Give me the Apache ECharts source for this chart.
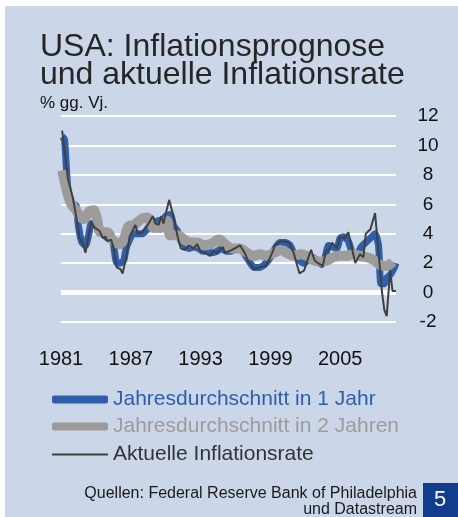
<!DOCTYPE html>
<html>
<head>
<meta charset="utf-8">
<script src="https://cdn.jsdelivr.net/npm/echarts@6/dist/echarts.min.js"></script>
<style>
html, body { margin: 0; padding: 0; background: #fff; }
#container { width: 458px; height: 517px; }
</style>
</head>
<body>
<div id="container"></div>
<script>
var dom = document.getElementById("container");
var myChart = echarts.init(dom);

// Jahresdurchschnitt in 1 Jahr
var oneYearX = [1981.1, 1981.3, 1981.5, 1981.7, 1982.0, 1982.3, 1982.5, 1982.8, 1983.1, 1983.4, 1983.6, 1984.0, 1984.3, 1984.6, 1985.0, 1985.3, 1985.5, 1985.8, 1986.1, 1986.4, 1986.6, 1986.9, 1987.2, 1987.6, 1988.0, 1988.4, 1988.8, 1989.1, 1989.4, 1989.7, 1990.0, 1990.4, 1990.7, 1991.0, 1991.3, 1991.6, 1992.0, 1992.4, 1992.8, 1993.2, 1993.6, 1994.0, 1994.4, 1994.8, 1995.2, 1995.6, 1996.0, 1996.4, 1996.8, 1997.2, 1997.6, 1998.0, 1998.5, 1999.0, 1999.4, 1999.8, 2000.3, 2000.7, 2001.0, 2001.5, 2001.9, 2002.2, 2002.6, 2003.0, 2003.4, 2003.7, 2004.0, 2004.3, 2004.7, 2005.0, 2005.3, 2005.7, 2006.0, 2006.4, 2006.8, 2007.2, 2007.6, 2008.0, 2008.3, 2008.5, 2008.8, 2009.0, 2009.3, 2009.6, 2009.8];
var oneYearY = [10.6, 10.4, 8.0, 6.3, 6.0, 5.9, 4.5, 3.4, 3.2, 4.0, 4.7, 4.5, 4.2, 4.0, 3.7, 3.6, 3.3, 2.0, 2.0, 2.2, 3.0, 3.6, 4.0, 4.0, 4.0, 4.3, 4.8, 4.8, 4.9, 4.7, 5.2, 5.3, 4.5, 4.2, 3.5, 3.2, 3.0, 3.1, 3.0, 2.8, 2.8, 2.7, 2.8, 3.0, 2.8, 2.8, 3.0, 3.0, 2.6, 2.1, 1.7, 1.7, 1.9, 2.4, 3.0, 3.4, 3.4, 3.2, 2.7, 2.2, 2.0, 2.2, 2.4, 2.2, 1.9, 2.4, 3.2, 3.1, 3.0, 3.7, 3.8, 3.5, 2.8, 2.5, 3.1, 3.4, 3.7, 4.0, 3.2, 0.6, 0.6, 1.0, 1.2, 1.6, 2.0];

// Jahresdurchschnitt in 2 Jahren
var twoYearX = [1981.1, 1981.6, 1981.9, 1982.3, 1982.6, 1983.0, 1983.4, 1983.8, 1984.1, 1984.4, 1985.0, 1985.4, 1986.0, 1986.4, 1986.8, 1987.3, 1987.9, 1988.4, 1989.0, 1989.6, 1990.1, 1990.4, 1991.0, 1991.6, 1992.1, 1992.7, 1993.3, 1993.9, 1994.6, 1995.1, 1995.7, 1996.4, 1997.0, 1997.6, 1998.1, 1998.7, 1999.3, 1999.9, 2000.4, 2001.0, 2001.6, 2002.1, 2002.7, 2003.3, 2003.9, 2004.4, 2005.0, 2005.6, 2006.1, 2006.7, 2007.3, 2007.9, 2008.4, 2009.0, 2009.5];
var twoYearY = [8.3, 6.6, 6.0, 5.6, 5.2, 5.0, 5.5, 5.6, 5.0, 4.1, 4.1, 3.6, 3.3, 3.6, 4.5, 4.6, 5.0, 5.1, 4.4, 4.4, 4.9, 3.9, 3.9, 3.6, 3.4, 3.4, 3.2, 3.3, 3.6, 3.3, 3.0, 3.0, 2.7, 2.5, 2.6, 2.5, 2.7, 2.9, 2.7, 2.5, 2.6, 2.5, 2.2, 2.1, 2.2, 2.4, 2.5, 2.5, 2.6, 2.5, 2.4, 2.2, 1.9, 1.8, 2.1];

// Aktuelle Inflationsrate
var actualX = [1981.1, 1981.6, 1982.0, 1982.3, 1982.6, 1982.9, 1983.1, 1983.6, 1983.9, 1984.3, 1984.6, 1984.8, 1985.0, 1985.3, 1985.5, 1985.8, 1986.1, 1986.3, 1986.6, 1986.9, 1987.4, 1987.6, 1988.0, 1988.4, 1988.9, 1989.1, 1989.4, 1989.6, 1989.8, 1990.3, 1990.7, 1991.0, 1991.3, 1991.6, 1992.0, 1992.4, 1992.7, 1993.0, 1993.4, 1993.8, 1994.1, 1994.4, 1994.9, 1995.1, 1995.7, 1996.4, 1996.8, 1997.1, 1997.6, 1998.0, 1998.6, 1999.0, 1999.4, 1999.9, 2000.6, 2001.0, 2001.5, 2001.9, 2002.1, 2002.5, 2002.8, 2003.1, 2003.5, 2003.8, 2004.0, 2004.3, 2004.7, 2005.0, 2005.4, 2005.7, 2006.3, 2006.7, 2007.0, 2007.2, 2007.6, 2008.0, 2008.3, 2008.6, 2008.8, 2009.0, 2009.3, 2009.5, 2009.8];
var actualY = [11.0, 7.7, 6.5, 5.2, 3.7, 3.3, 2.7, 4.8, 4.4, 4.2, 3.7, 3.8, 3.5, 3.6, 3.1, 1.7, 1.6, 1.3, 2.4, 3.8, 4.6, 4.0, 4.1, 4.5, 5.2, 4.7, 4.6, 5.2, 4.7, 6.3, 5.1, 3.9, 3.0, 2.9, 3.2, 3.0, 3.3, 2.8, 2.7, 2.5, 2.8, 2.7, 3.1, 2.7, 2.9, 3.2, 2.7, 2.1, 1.6, 1.7, 1.8, 2.4, 3.2, 3.5, 3.4, 2.7, 1.3, 1.5, 2.0, 2.9, 2.2, 2.0, 1.8, 2.9, 2.8, 3.4, 3.0, 3.8, 3.7, 4.1, 2.0, 2.6, 2.4, 4.0, 4.3, 5.4, 2.7, 0.0, -1.2, -1.6, 1.5, 0.1, 0.1];

var seriesNames = ['Jahresdurchschnitt in 1 Jahr', 'Jahresdurchschnitt in 2 Jahren', 'Aktuelle Inflationsrate'];
var seriesColors = ['#2e5fad', '#9e9c9a', '#404040'];

function pairs(xs, ys) {
    var out = [];
    for (var i = 0; i < xs.length; i++) out.push([xs[i], ys[i]]);
    return out;
}

var font = 'Liberation Sans, Arial, sans-serif';

function legendFor(i, top, h) {
    return {
        data: [{ name: seriesNames[i], icon: 'roundRect' }],
        left: 52,
        top: top,
        padding: 0,
        itemWidth: 56,
        itemHeight: h,
        selectedMode: false,
        textStyle: { color: i === 2 ? '#333333' : seriesColors[i], fontSize: 21, fontFamily: font }
    };
}

var option = {
    backgroundColor: '#ffffff',
    animation: false,
    title: {
        text: 'USA: Inflationsprognose\nund aktuelle Inflationsrate',
        subtext: '% gg. Vj.',
        left: 35,
        top: 28,
        itemGap: 2,
        textStyle: { fontSize: 32, lineHeight: 28, fontWeight: 'normal', color: '#262626', fontFamily: font },
        subtextStyle: { fontSize: 17, color: '#111111', fontFamily: font }
    },
    legend: [legendFor(0, 389, 8), legendFor(1, 416, 8), legendFor(2, 444, 2)],
    grid: { left: 61, right: 62, top: 116, bottom: 195 },
    xAxis: {
        type: 'value',
        min: 1981,
        max: 2009.8,
        interval: 6,
        axisLine: { show: false },
        axisTick: { show: false },
        splitLine: { show: false },
        axisLabel: {
            showMaxLabel: false, margin: 27, fontSize: 20, color: '#111111', fontFamily: font,
            formatter: function (v) { return String(v); }
        }
    },
    yAxis: {
        type: 'value',
        position: 'right',
        min: -2,
        max: 12,
        interval: 2,
        axisLine: { show: false },
        axisTick: { show: false },
        splitLine: { lineStyle: { color: '#ffffff', width: 2 } },
        axisLabel: { align: 'center', margin: 32, fontSize: 19, color: '#111111', fontFamily: font }
    },
    graphic: [
        { type: 'rect', z: -10, shape: { x: 5, y: 6, width: 453, height: 511 }, style: { fill: '#cbd6e8' } },
        { type: 'text', x: 417, y: 486, style: { text: 'Quellen: Federal Reserve Bank of Philadelphia', fill: '#1a1a1a', font: '16px ' + font, textAlign: 'right' } },
        { type: 'text', x: 417, y: 502, style: { text: 'und Datastream', fill: '#1a1a1a', font: '16px ' + font, textAlign: 'right' } },
        { type: 'rect', shape: { x: 423, y: 483, width: 35, height: 34 }, style: { fill: '#123c8e' } },
        { type: 'text', x: 440, y: 500, style: { text: '5', fill: '#ffffff', font: '22px ' + font, textAlign: 'center', textVerticalAlign: 'middle' } }
    ],
    series: [
        {
            name: seriesNames[0], type: 'line', showSymbol: false, smooth: 0.2, z: 3,
            color: seriesColors[0], lineStyle: { width: 7, color: seriesColors[0] },
            data: pairs(oneYearX, oneYearY),
            markLine: {
                silent: true, symbol: 'none', label: { show: false }, z: 1,
                lineStyle: { color: '#ffffff', width: 5, type: 'solid' },
                data: [{ yAxis: 0 }]
            }
        },
        {
            name: seriesNames[1], type: 'line', showSymbol: false, smooth: 0.3, z: 4,
            color: seriesColors[1], lineStyle: { width: 10, color: seriesColors[1] },
            data: pairs(twoYearX, twoYearY)
        },
        {
            name: seriesNames[2], type: 'line', showSymbol: false, z: 5,
            color: seriesColors[2], lineStyle: { width: 2, color: seriesColors[2] },
            data: pairs(actualX, actualY)
        }
    ]
};
if (option && typeof option === "object") {
    myChart.setOption(option, true);
}
</script>
</body>
</html>
